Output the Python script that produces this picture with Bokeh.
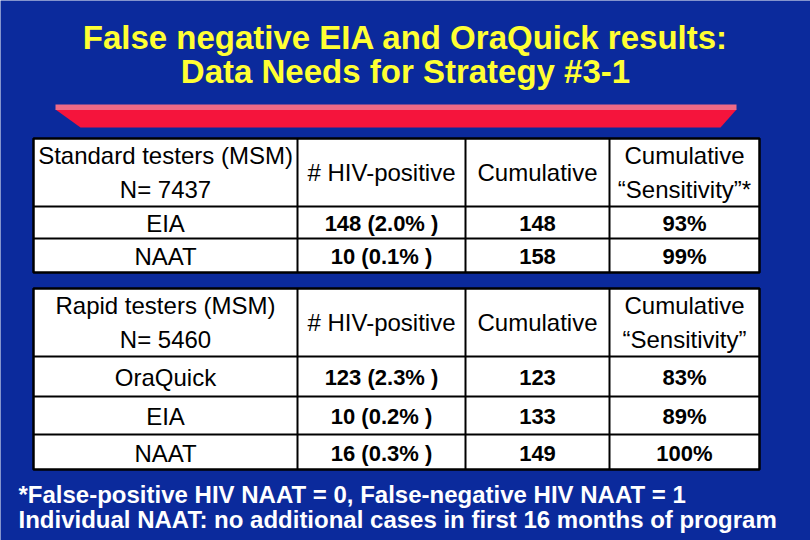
from bokeh.plotting import figure
from bokeh.models import Range1d, ColumnDataSource
from bokeh.core.properties import value
from bokeh.embed import file_html
from bokeh.resources import INLINE

# ---- data ----
title_lines = ["False negative EIA and OraQuick results:", "Data Needs for Strategy #3-1"]

t1_header_col0 = ["Standard testers (MSM)", "N= 7437"]
t1_header_col1 = "# HIV-positive"
t1_header_col2 = "Cumulative"
t1_header_col3 = ["Cumulative", "\u201cSensitivity\u201d*"]
t1_tests = ["EIA", "NAAT"]
t1_positive = ["148 (2.0% )", "10 (0.1% )"]
t1_cumulative = ["148", "158"]
t1_sensitivity = ["93%", "99%"]

t2_header_col0 = ["Rapid testers (MSM)", "N= 5460"]
t2_header_col1 = "# HIV-positive"
t2_header_col2 = "Cumulative"
t2_header_col3 = ["Cumulative", "\u201cSensitivity\u201d"]
t2_tests = ["OraQuick", "EIA", "NAAT"]
t2_positive = ["123 (2.3% )", "10 (0.2% )", "16 (0.3% )"]
t2_cumulative = ["123", "133", "149"]
t2_sensitivity = ["83%", "89%", "100%"]

footnotes = ["*False-positive HIV NAAT = 0, False-negative HIV NAAT = 1",
             "Individual NAAT: no additional cases in first 16 months of program"]

# ---- layout ----
BG = "#0B2A9C"
W, H = 810, 540
p = figure(width=W, height=H, x_range=Range1d(0, W), y_range=Range1d(H, 0),
           output_backend="svg", toolbar_location=None, min_border=0,
           background_fill_color=BG, border_fill_color=BG, outline_line_color=None)
p.axis.visible = False
p.grid.visible = False

FONT = value("Liberation Sans")

# title
p.text(x=[405, 405], y=[37, 71], text=title_lines, text_color="#FFFF33",
       text_font=FONT, text_font_style="bold", text_font_size="33px",
       text_align="center", text_baseline="middle")

# red bar
p.patch(x=[55, 736, 720, 80], y=[109, 109, 127, 127], fill_color="#F5143C", line_color=None)
p.quad(left=[55], right=[736], top=[104], bottom=[109.5], fill_color="#EE6A86", line_color=None)

col_edges = [33, 297, 465, 609, 759]
col_centers = [(col_edges[i] + col_edges[i + 1]) / 2 for i in range(4)]


def draw_table(row_edges, hdr0, hdr1, hdr2, hdr3, tests, pos, cum, sens, hdr_lines_y):
    top, bottom = row_edges[0], row_edges[-1]
    p.quad(left=[col_edges[0]], right=[col_edges[-1]], top=[top], bottom=[bottom],
           fill_color="white", line_color="black", line_width=2.5)
    p.segment(x0=[col_edges[0]] * (len(row_edges) - 2), x1=[col_edges[-1]] * (len(row_edges) - 2),
              y0=row_edges[1:-1], y1=row_edges[1:-1], line_color="black", line_width=2)
    p.segment(x0=col_edges[1:-1], x1=col_edges[1:-1], y0=[top] * 3, y1=[bottom] * 3,
              line_color="black", line_width=2)
    hmid = (row_edges[0] + row_edges[1]) / 2
    hx = [col_centers[0], col_centers[0], col_centers[1], col_centers[2], col_centers[3], col_centers[3]]
    hy = [hdr_lines_y[0], hdr_lines_y[1], hmid, hmid, hdr_lines_y[0], hdr_lines_y[1]]
    ht = [hdr0[0], hdr0[1], hdr1, hdr2, hdr3[0], hdr3[1]]
    p.text(x=hx, y=hy, text=ht, text_color="black", text_font=FONT, text_font_size="24px",
           text_align="center", text_baseline="middle")
    ys = [(row_edges[i] + row_edges[i + 1]) / 2 + 1 for i in range(1, len(row_edges) - 1)]
    n = len(tests)
    p.text(x=[col_centers[0]] * n, y=ys, text=tests, text_color="black", text_font=FONT,
           text_font_size="24px", text_align="center", text_baseline="middle")
    src = ColumnDataSource(dict(
        x=[col_centers[1]] * n + [col_centers[2]] * n + [col_centers[3]] * n,
        y=ys * 3, t=pos + cum + sens))
    p.text(x="x", y="y", text="t", source=src, text_color="black", text_font=FONT,
           text_font_style="bold", text_font_size="22px", text_align="center", text_baseline="middle")


draw_table([138, 206, 238, 272], t1_header_col0, t1_header_col1, t1_header_col2, t1_header_col3,
           t1_tests, t1_positive, t1_cumulative, t1_sensitivity, [155, 189])
draw_table([288, 356, 396, 434, 469], t2_header_col0, t2_header_col1, t2_header_col2, t2_header_col3,
           t2_tests, t2_positive, t2_cumulative, t2_sensitivity, [305, 339])

# footnotes
p.text(x=[18, 18], y=[494, 519], text=footnotes, text_color="white", text_font=FONT,
       text_font_style="bold", text_font_size="24px", text_align="left", text_baseline="middle")

open("out.html", "w").write(file_html(p, INLINE))
